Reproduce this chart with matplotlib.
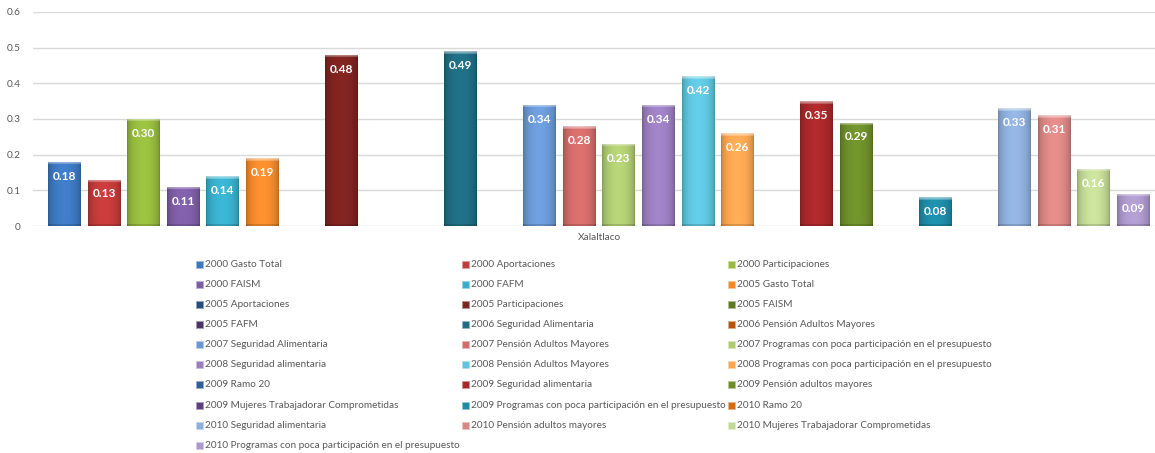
import numpy as np
import matplotlib
matplotlib.use("Agg")
import matplotlib.pyplot as plt
from matplotlib.colors import to_rgb
from matplotlib.patches import Rectangle

# ---------------- data ----------------
category = "Xalaltlaco"
series_names = [
    "2000 Gasto Total", "2000 Aportaciones", "2000 Participaciones",
    "2000 FAISM", "2000 FAFM", "2005 Gasto Total",
    "2005 Aportaciones", "2005 Participaciones", "2005 FAISM",
    "2005 FAFM", "2006 Seguridad Alimentaria", "2006 Pensión Adultos Mayores",
    "2007 Seguridad Alimentaria", "2007 Pensión Adultos Mayores",
    "2007 Programas con poca participación en el presupuesto",
    "2008 Seguridad alimentaria", "2008 Pensión Adultos Mayores",
    "2008 Programas con poca participación en el presupuesto",
    "2009 Ramo 20", "2009 Seguridad alimentaria", "2009 Pensión adultos mayores",
    "2009 Mujeres Trabajadorar Comprometidas",
    "2009 Programas con poca participación en el presupuesto", "2010 Ramo 20",
    "2010 Seguridad alimentaria", "2010 Pensión adultos mayores",
    "2010 Mujeres Trabajadorar Comprometidas",
    "2010 Programas con poca participación en el presupuesto",
]
values = [0.18, 0.13, 0.30, 0.11, 0.14, 0.19,
          None, 0.48, None, None, 0.49, None,
          0.34, 0.28, 0.23, 0.34, 0.42, 0.26,
          None, 0.35, 0.29, None, 0.08, None,
          0.33, 0.31, 0.16, 0.09]
yticks = [0, 0.1, 0.2, 0.3, 0.4, 0.5, 0.6]
ytick_labels = ["0", "0.1", "0.2", "0.3", "0.4", "0.5", "0.6"]

colors = [
    "#3C78C0", "#C23A3A", "#95BA3E", "#7E5DA5", "#38AECB", "#F28A2C",
    "#254E7E", "#7D2320", "#5E7A22", "#4B3466", "#1F6C82", "#B5560F",
    "#6A98D5", "#D26B6A", "#AFCB72", "#9A7EBF", "#5FC4DD", "#F9A552",
    "#2F5F9A", "#A8282A", "#6D8E2B", "#5D3F80", "#1E8AA6", "#D46A13",
    "#8EAEDB", "#DA8784", "#C2D995", "#AC98CB",
]

# ---------------- figure ----------------
W, H = 1155, 453
fig = plt.figure(figsize=(W / 100, H / 100), dpi=100)
fig.patch.set_facecolor("white")
ax = fig.add_axes([33 / W, 1 - 226 / H, (1165 - 33) / W, (226 - 12) / H])

n = len(values)
x = np.arange(n)
heights = np.array([0.0 if v is None else v for v in values])
bars = ax.bar(x, heights, width=0.83, color=colors, zorder=2, linewidth=0)

ax.set_xlim(-0.795, n - 1 + 0.795)
ax.set_ylim(0, 0.6)
ax.set_autoscale_on(False)

for s in ax.spines.values():
    s.set_visible(False)
ax.set_yticks(yticks)
ax.set_yticklabels(ytick_labels)
ax.yaxis.grid(True, color="#D9D9D9", linewidth=1.0, zorder=0)
ax.set_axisbelow(True)
ax.set_xticks([(n - 1) / 2])
ax.set_xticklabels([category])
ax.tick_params(axis="y", length=0, pad=9, labelsize=7.3, labelcolor="#595959")
ax.tick_params(axis="x", length=0, pad=5, labelsize=7.3, labelcolor="#595959")
for t in ax.get_yticklabels() + ax.get_xticklabels():
    t.set_family("Lato")


def shaded(color, rows, cols=40):
    rgb = np.array(to_rgb(color))
    t = np.linspace(0, 1, cols)
    prof = 0.76 + 0.30 * np.sin(np.pi * t) ** 0.5
    img = np.clip(rgb[None, None, :] * prof[None, :, None] * np.ones((rows, 1, 1)), 0, 1)
    # bevel highlight at top
    hl = min(3, rows)
    for r in range(hl):
        a = 0.55 - 0.15 * r
        img[r] = img[r] * (1 - a) + a
    # slight dark at bottom
    if rows > 6:
        img[-2:] = img[-2:] * 0.85
    return img


y0 = ax.transData.transform((0, 0))[1]
for b, v, c in zip(bars, values, colors):
    if v is None:
        continue
    hpx = ax.transData.transform((0, v))[1] - y0
    rows = max(int(round(hpx)), 2)
    img = shaded(c, rows)
    im = ax.imshow(img, extent=(b.get_x(), b.get_x() + b.get_width(), 0, b.get_height()),
                   aspect="auto", origin="upper", interpolation="bilinear", zorder=3)
    im.set_clip_path(b)
    ax.annotate(f"{v:.2f}", xy=(b.get_x() + b.get_width() / 2, v), xytext=(0, -10.3),
                textcoords="offset points", ha="center", va="center",
                color="white", fontweight="bold", fontsize=8.6, family="Lato", zorder=5)

# ---------------- legend (manual, Excel-like layout) ----------------
col_x = [196, 462, 728]
row_y0, row_dy = 264.3, 20.1
for i, (name, c) in enumerate(zip(series_names, colors)):
    r, k = divmod(i, 3)
    xm = col_x[k]
    ym = row_y0 + r * row_dy
    fig.patches.append(Rectangle((xm / W, 1 - (ym + 3.5) / H), 7 / W, 7 / H,
                                 transform=fig.transFigure, facecolor=c,
                                 edgecolor=np.clip(np.array(to_rgb(c)) * 0.5 + 0.5, 0, 1),
                                 linewidth=0.6))
    fig.text((xm + 9) / W, 1 - ym / H, name, ha="left", va="center",
             fontsize=7.2, color="#595959", family="Lato")

fig.savefig("out.png", dpi=100, facecolor="white")
